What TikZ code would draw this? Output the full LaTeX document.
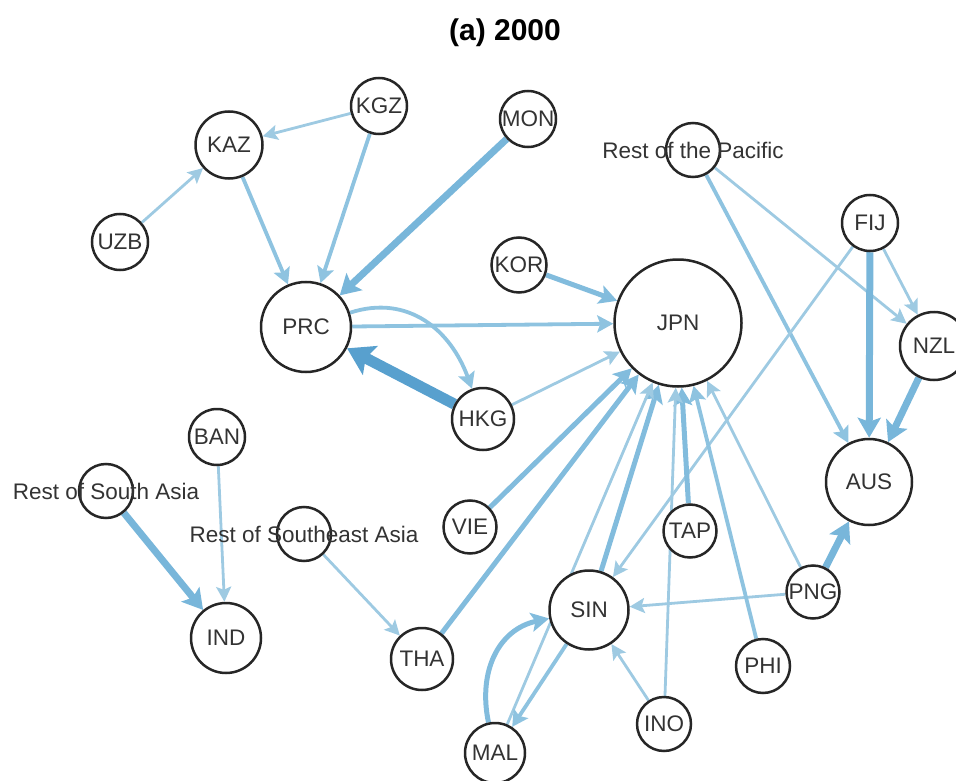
\documentclass[tikz,border=0pt]{standalone}
\usepackage{fontspec}
\setmainfont{Liberation Sans}
\usetikzlibrary{arrows.meta, backgrounds, positioning}

\definecolor{flowA}{RGB}{158,202,226}
\definecolor{flowB}{RGB}{142,195,224}
\definecolor{flowC}{RGB}{130,188,221}
\definecolor{flowD}{RGB}{120,182,218}
\definecolor{flowE}{RGB}{88,160,206}

\begin{document}
\begin{tikzpicture}[x=1pt, y=-1pt,
	country/.style={circle, draw=black!85, line width=2.5pt, fill=white, inner sep=0pt, minimum size=#1},
	country/.default=56pt,
	tag/.style={font=\fontsize{22.5}{27}\selectfont, text=black!80},
	fA/.style={draw=flowA, line width=2.8pt, -{Stealth[inset=3pt, length=15pt, width=15pt]}},
	fB/.style={draw=flowB, line width=3.8pt, -{Stealth[inset=3pt, length=16pt, width=17pt]}},
	fC/.style={draw=flowC, line width=5pt, -{Stealth[inset=4pt, length=18pt, width=19pt]}},
	fD/.style={draw=flowD, line width=7pt, -{Stealth[inset=4pt, length=20pt, width=23pt]}},
	fE/.style={draw=flowE, line width=11pt, -{Stealth[inset=5pt, length=26pt, width=32pt]}}]

\useasboundingbox (0,0) rectangle (956,781);

\node[font=\fontsize{30}{35}\selectfont\bfseries]	(title)	at (505,33)		{(a) 2000};

% countries
\node[country=67pt]		(KAZ)	at (229,145)	{};
\node[country]			(KGZ)	at (379,106)	{};
\node[country]			(UZB)	at (120,242)	{};
\node[country=90pt]		(PRC)	at (306,327)	{};
\node[country]			(MON)	at (528,119)	{};
\node[country=54pt]		(ROP)	at (693,150)	{};
\node[country]			(FIJ)	at (870,223)	{};
\node[country=55pt]		(KOR)	at (519,265)	{};
\node[country=127pt]	(JPN)	at (678,323)	{};
\node[country=68pt]		(NZL)	at (934,346)	{};
\node[country=86pt]		(AUS)	at (869,482)	{};
\node[country=62pt]		(HKG)	at (483,419)	{};
\node[country=53pt]		(VIE)	at (470,527)	{};
\node[country=53pt]		(TAP)	at (690,531)	{};
\node[country=79pt]		(SIN)	at (589,610)	{};
\node[country=53pt]		(PNG)	at (813,592)	{};
\node[country=54pt]		(PHI)	at (763,666)	{};
\node[country=54pt]		(INO)	at (664,724)	{};
\node[country=60pt]		(MAL)	at (495,753)	{};
\node[country=62pt]		(THA)	at (422,659)	{};
\node[country]			(BAN)	at (217,437)	{};
\node[country=54pt]		(RSA)	at (106,491)	{};
\node[country=70pt]		(IND)	at (226,638)	{};
\node[country=54pt]		(RSEA)	at (304,534)	{};

% names
\node[tag]	(KAZname)	at (KAZ)	{KAZ};
\node[tag]	(KGZname)	at (KGZ)	{KGZ};
\node[tag]	(UZBname)	at (UZB)	{UZB};
\node[tag]	(PRCname)	at (PRC)	{PRC};
\node[tag]	(MONname)	at (MON)	{MON};
\node[tag]	(ROPname)	at (ROP)	{Rest of the Pacific};
\node[tag]	(FIJname)	at (FIJ)	{FIJ};
\node[tag]	(KORname)	at (KOR)	{KOR};
\node[tag]	(JPNname)	at (JPN)	{JPN};
\node[tag]	(NZLname)	at (NZL)	{NZL};
\node[tag]	(AUSname)	at (AUS)	{AUS};
\node[tag]	(HKGname)	at (HKG)	{HKG};
\node[tag]	(VIEname)	at (VIE)	{VIE};
\node[tag]	(TAPname)	at (TAP)	{TAP};
\node[tag]	(SINname)	at (SIN)	{SIN};
\node[tag]	(PNGname)	at (PNG)	{PNG};
\node[tag]	(PHIname)	at (PHI)	{PHI};
\node[tag]	(INOname)	at (INO)	{INO};
\node[tag]	(MALname)	at (MAL)	{MAL};
\node[tag]	(THAname)	at (THA)	{THA};
\node[tag]	(BANname)	at (BAN)	{BAN};
\node[tag]	(RSAname)	at (RSA)	{Rest of South Asia};
\node[tag]	(INDname)	at (IND)	{IND};
\node[tag]	(RSEAname)	at (RSEA)	{Rest of Southeast Asia};

% flows
\begin{scope}[on background layer]
\path	(KGZ)	edge[fA]						(KAZ);
\path	(UZB)	edge[fA]						(KAZ);
\path	(KAZ)	edge[fB]						(PRC);
\path	(KGZ)	edge[fB]						(PRC);
\path	(MON)	edge[fD]						(PRC);
\path	(PRC)	edge[fB]						(JPN);
\path	(PRC)	edge[fB, out=18, in=110, looseness=1.1]	(HKG);
\path	(HKG)	edge[fE]						(PRC);
\path	(HKG)	edge[fA]						(JPN);
\path	(KOR)	edge[fC]						(JPN);
\path	(ROP)	edge[fB]						(AUS);
\path	(ROP)	edge[fA]						(NZL);
\path	(FIJ)	edge[fA]						(NZL);
\path	(FIJ)	edge[fD]						(AUS);
\path	(NZL)	edge[fD]						(AUS);
\path	(FIJ)	edge[fA]						(SIN);
\path	(PNG)	edge[fD]						(AUS);
\path	(PNG)	edge[fA]						(SIN);
\path	(PNG)	edge[fA]						(JPN);
\path	(PHI)	edge[fB]						(JPN);
\path	(TAP)	edge[fC]						(JPN);
\path	(INO)	edge[fA]						(JPN);
\path	(INO)	edge[fA]						(SIN);
\path	(SIN)	edge[fC]						(JPN);
\path	(MAL)	edge[fA]						(JPN);
\path	(MAL)	edge[fC, out=102, in=192, looseness=1.1]	(SIN);
\path	(SIN)	edge[fB]						(MAL);
\path	(VIE)	edge[fC]						(JPN);
\path	(THA)	edge[fC]						(JPN);
\path	(RSEA)	edge[fA]						(THA);
\path	(RSA)	edge[fD]						(IND);
\path	(BAN)	edge[fA]						(IND);
\end{scope}

\end{tikzpicture}
\end{document}
